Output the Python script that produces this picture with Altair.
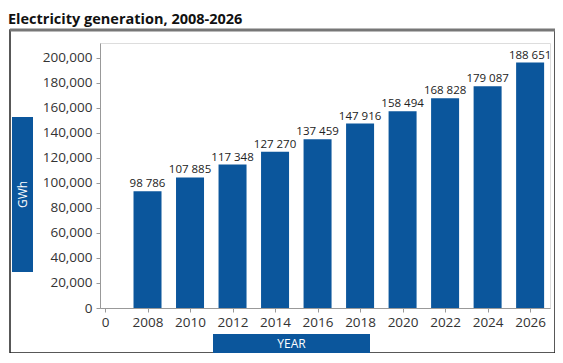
import altair as alt
import pandas as pd

years = [2008, 2010, 2012, 2014, 2016, 2018, 2020, 2022, 2024, 2026]
bar_heights = [93200, 104300, 114500, 124800, 134700, 147300, 157200, 167500, 177000, 196000]
value_labels = ["98 786", "107 885", "117 348", "127 270", "137 459", "147 916",
                "158 494", "168 828", "179 087", "188 651"]
x_ticks = [2006, 2008, 2010, 2012, 2014, 2016, 2018, 2020, 2022, 2024, 2026]
y_ticks = [0, 20000, 40000, 60000, 80000, 100000, 120000, 140000, 160000, 180000, 200000]
title_text = "Electricity generation, 2008-2026"
y_title = "GWh"
x_title = "YEAR"

df = pd.DataFrame({"year": years, "gwh": bar_heights, "label": value_labels})
one = pd.DataFrame({"k": [0]})

BLUE = "#0b569c"
FONT = "Open Sans"

xs = alt.X("year:Q", scale=alt.Scale(domain=[2006, 2026.7], nice=False, zero=False),
           axis=alt.Axis(values=x_ticks, format="d", title=None, grid=False,
                         labelExpr="datum.value < 2007 ? '0' : datum.label",
                         labelFontSize=13.5, labelColor="#333", labelFont=FONT,
                         labelOverlap=False, labelFlush=False, labelBound=False,
                         domainColor="#999", tickColor="#999", tickSize=4, labelPadding=3))
ys = alt.Y("gwh:Q", scale=alt.Scale(domain=[0, 211600], nice=False),
           axis=alt.Axis(values=y_ticks, format=",d", title=None, grid=False,
                         labelFontSize=13.5, labelColor="#333", labelFont=FONT,
                         labelOverlap=False, labelFlush=False, labelBound=False,
                         domainColor="#999", tickColor="#999", tickSize=4, labelPadding=4))

frame = alt.Chart(one).mark_rect(filled=False, stroke="#222", strokeWidth=1.5).encode(
    x=alt.value(-90), x2=alt.value(455), y=alt.value(-13), y2=alt.value(310))
top_line = alt.Chart(one).mark_rule(color="#777", strokeWidth=3).encode(
    x=alt.value(-90), x2=alt.value(455), y=alt.value(-13))

bars = alt.Chart(df).mark_bar(width=28, color=BLUE).encode(x=xs, y=ys)
labels = alt.Chart(df).mark_text(baseline="bottom", dy=-2, fontSize=11.5, font=FONT,
                                 color="#222").encode(x=xs, y=ys, text="label:N")

title = alt.Chart(one).mark_text(text=title_text, align="left", baseline="alphabetic",
                                 fontSize=14.5, fontWeight="bold", font=FONT, color="#111").encode(
    x=alt.value(-92), y=alt.value(-19))

gwh_box = alt.Chart(one).mark_rect(color=BLUE).encode(
    x=alt.value(-88), x2=alt.value(-67), y=alt.value(74), y2=alt.value(229))
gwh_text = alt.Chart(one).mark_text(text=y_title, angle=270, align="center", baseline="middle",
                                    fontSize=12, font=FONT, color="white").encode(
    x=alt.value(-77.5), y=alt.value(151.5))
year_box = alt.Chart(one).mark_rect(color=BLUE).encode(
    x=alt.value(113), x2=alt.value(270), y=alt.value(291), y2=alt.value(310))
year_text = alt.Chart(one).mark_text(text=x_title, align="center", baseline="middle",
                                     fontSize=12, font=FONT, color="white").encode(
    x=alt.value(191.5), y=alt.value(300.5))

chart = alt.layer(frame, top_line, bars, labels, title, gwh_box, gwh_text, year_box, year_text).properties(
    width=450, height=265,
    autosize=alt.AutoSizeParams(type="none"),
    padding={"left": 92, "top": 35, "right": 5, "bottom": 45},
).configure_view(stroke=None).configure(background="white")

chart.save("out.html", embed_options={"renderer": "svg", "actions": False})
